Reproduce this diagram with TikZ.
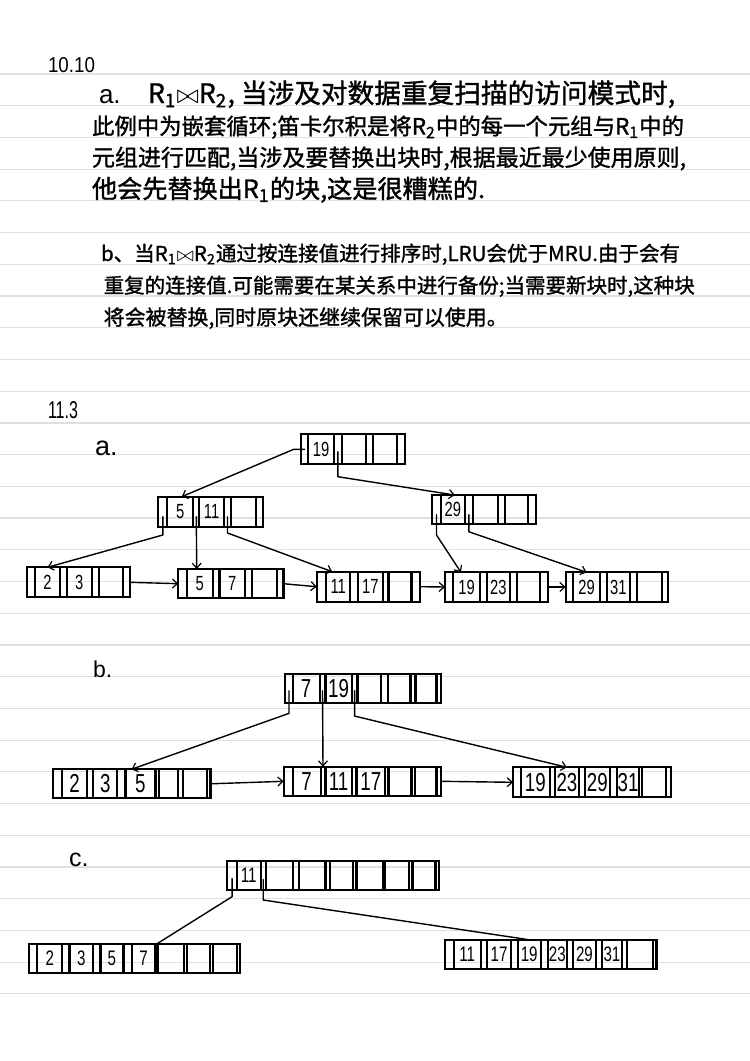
\documentclass[tikz,border=0pt]{standalone}
\usepackage{fontspec}
\setmainfont{Liberation Sans}
\newfontfamily\cjk[FakeBold=1.3]{Noto Sans CJK SC}
\usepackage{graphicx}
\usetikzlibrary{arrows.meta,calc}

\tikzset{
  rule/.style={draw=black!12, line width=1.2pt},
  cell/.style={draw, line width=2.2pt, inner sep=0pt, outer sep=0pt, anchor=west},
  conn/.style={line width=1.4pt, line join=round, line cap=round},
  arr/.style={conn, -{Straight Barb[length=5pt,width=9pt,line width=1.2pt]}},
  lbl/.style={inner sep=0pt, outer sep=0pt, anchor=base west},
}
\newcommand\cellt[1]{\makebox[0pt]{\scalebox{0.72}[1]{#1}}}
\newcommand\bpnode[5]{%
  \foreach \w/\t [count=\i, remember=\i as \j (initially 0)] in {#5} {%
    \ifnum\i=1\relax
      \node[cell, minimum height=#4pt, minimum width=\w pt] (#1-\i) at (#2,#3) {\cellt{\t}};
    \else
      \node[cell, minimum height=#4pt, minimum width=\w pt] (#1-\i) at (#1-\j.east) {\cellt{\t}};
    \fi
  }%
}

\begin{document}
\begin{tikzpicture}[x=1pt,y=-1pt]
\fill[white] (0,0) rectangle (750,1061);
\useasboundingbox (0,0) rectangle (750,1061);
\foreach \k in {0,...,29} \draw[rule] (0,{74+31.72*\k}) -- (750,{74+31.72*\k});

% ---------- 10.10 ----------
\node[lbl] (t1010) at (48,72) {\resizebox{47pt}{15pt}{10.10}};
\node[lbl] (pa) at (99,103) {\fontsize{26}{26}\selectfont a.};
\node[lbl] (a1) at (148,103) {\resizebox{527pt}{!}{\cjk R\textsubscript{1}$\bowtie$R\textsubscript{2}, 当涉及对数据重复扫描的访问模式时,}};
\node[lbl] (a2) at (92,134.5) {\resizebox{592pt}{!}{\cjk 此例中为嵌套循环;笛卡尔积是将R\textsubscript{2}中的每一个元组与R\textsubscript{1}中的}};
\node[lbl] (a3) at (92,166) {\resizebox{594pt}{!}{\cjk 元组进行匹配,当涉及要替换出块时,根据最近最少使用原则,}};
\node[lbl] (a4) at (92,198) {\resizebox{393pt}{!}{\cjk 他会先替换出R\textsubscript{1}的块,这是很糟糕的.}};
\node[lbl] (b1) at (101,261) {\resizebox{579pt}{!}{\cjk b、当R\textsubscript{1}$\bowtie$R\textsubscript{2}通过按连接值进行排序时,LRU会优于MRU.由于会有}};
\node[lbl] (b2) at (103.7,293) {\resizebox{591pt}{!}{\cjk 重复的连接值.可能需要在某关系中进行备份;当需要新块时,这种块}};
\node[lbl] (b3) at (103.7,325) {\resizebox{404pt}{!}{\cjk 将会被替换,同时原块还继续保留可以使用。}};

% ---------- 11.3 ----------
\node[lbl] (t113) at (48,418) {\resizebox{30pt}{17pt}{11.3}};
\node[lbl] (lblA) at (95,455) {\fontsize{27}{27}\selectfont a.};
\node[lbl] (lblB) at (93,677) {\fontsize{23}{23}\selectfont b.};
\node[lbl] (lblC) at (69,866) {\fontsize{25}{25}\selectfont c.};

% tree a
\begin{scope}[nodes={font=\fontsize{20.5}{20.5}\selectfont}]
\bpnode{ra}{300.7}{449.3}{30}{7.6/,25.7/19,7.7/,24.3/,6.7/,24/,8.3/}
\bpnode{al}{158.3}{511.7}{30}{9/,26/5,6/,24.7/11,7/,25/,6.7/}
\bpnode{ar}{432.3}{509.7}{29.3}{8.4/,24.3/29,7.7/,25.6/,6.7/,23.3/,7.7/}
\bpnode{la}{26.7}{582.3}{30}{8.3/,25/2,6.7/,25/3,7.6/,24/,6.7/}
\bpnode{lb}{178.3}{583.7}{29.3}{8.4/,26/5,6.7/,25.7/7,6.7/,25/,6.6/}
\bpnode{lc}{316.7}{586.7}{30}{9.6/,23.9/11,7.7/,24.9/17,5.7/,23/,8.5/}
\bpnode{ld}{445}{587}{29.4}{8.3/,26.7/19,6.7/,23.3/23,6.7/,23.3/,8.3/}
\bpnode{le}{565.7}{587}{29.4}{7.6/,26.7/29,6.7/,23.3/31,6.7/,25/,6.6/}
\end{scope}
\draw[arr] (ra-1.center) -- ([xshift=-7pt]ra-1.west) -- ([xshift=1.4pt]al-2.north);
\draw[arr] ([yshift=-2.4pt]ra-3.center) -- ([yshift=-12.4pt]ra-3.south) -- ([xshift=2pt]ar-2.north);
\draw[arr] ([yshift=-5pt]al-1.center) -- ([yshift=-8.3pt]al-1.south) -- (la-2.north);
\draw[arr] ([yshift=-5pt]al-3.center) -- ([xshift=-3pt]lb-2.north);
\draw[arr] ([yshift=-5pt]al-5.center) -- ([yshift=-6.3pt]al-5.south) -- ([xshift=-6pt]lc-2.north);
\draw[arr] ([yshift=-5pt]ar-1.center) -- ([yshift=-10.7pt]ar-1.south) -- ([xshift=-5.7pt]ld-2.north);
\draw[arr] ([yshift=-5pt]ar-3.center) -- ([yshift=-7.4pt]ar-3.south) -- (le-2.north);
\draw[arr] (la-7.east) -- (lb-1.west);
\draw[arr] (lb-7.east) -- (lc-1.west);
\draw[arr] (lc-7.east) -- (ld-1.west);
\draw[arr] (ld-7.east) -- (le-1.west);

% tree b
\begin{scope}[nodes={font=\fontsize{26}{26}\selectfont}]
\bpnode{rb}{285.2}{688.7}{29.3}{7.6/,26.8/7,5.8/,26.3/19,5.7/,23.9/,6.3/,22.9/,5/,21/,4.6/}
\bpnode{ma}{52.6}{783.8}{29}{9.6/,24.9/2,6.2/,23.9/3,8.2/,30.1/5,3.4/,19.1/,4.8/,23.9/,3.8/}
\bpnode{mb}{283.7}{781.3}{29.3}{9.1/,27.8/7,4.8/,26.3/11,4.8/,28.7/17,3.3/,23/,3.8/,21.1/,4.7/}
\bpnode{mc}{513}{782.3}{30}{7.6/,29.6/19,4.8/,23.9/23,5.8/,25.3/29,7.2/,21.6/31,3.3/,23.9/,4.8/}
\end{scope}
\draw[arr] ([yshift=-2pt]rb-1.center) -- ([yshift=-10pt]rb-1.south) -- ([xshift=-9pt]ma-6.north);
\draw[arr] ([yshift=-2pt]rb-3.center) -- (mb-3.north);
\draw[arr] ([yshift=-2pt]rb-5.center) -- ([yshift=-12.7pt]rb-5.south) -- (mc-4.north);
\draw[arr] (ma-11.east) -- (mb-1.west);
\draw[arr] (mb-11.east) -- (mc-1.west);

% tree c
\begin{scope}[nodes={font=\fontsize{21}{21}\selectfont}]
\bpnode{rc}{227.3}{875.5}{29}{9.5/,24/11,4.8/,27.2/,6.2/,26.4/,4.7/,23/,3.4/,26.3/,2.4/,23.9/,3.3/,23/,3.8/}
\bpnode{na}{28.7}{958.3}{28.7}{8.6/,24.9/2,7.2/,23.9/3,7.2/,22.9/5,8.2/,23.9/7,2.4/,26.3/,2.4/,23/,3.3/,23.9/,3.4/}
\bpnode{nb}{445}{954.7}{29.3}{8.6/,27.3/11,6.2/,23.9/17,6.7/,23/19,7.1/,19.2/23,6.2/,22.5/29,6.2/,20.1/31,4.8/,26.3/,3.4/}
\end{scope}
\draw[conn] ([yshift=-3pt]rc-1.center) -- ([yshift=-6.7pt]rc-1.south) -- (na-9.north);
\draw[conn] ([yshift=-4pt]rc-3.center) -- ([yshift=-10pt]rc-3.south) -- ([xshift=2pt]nb-6.north);
\end{tikzpicture}
\end{document}
